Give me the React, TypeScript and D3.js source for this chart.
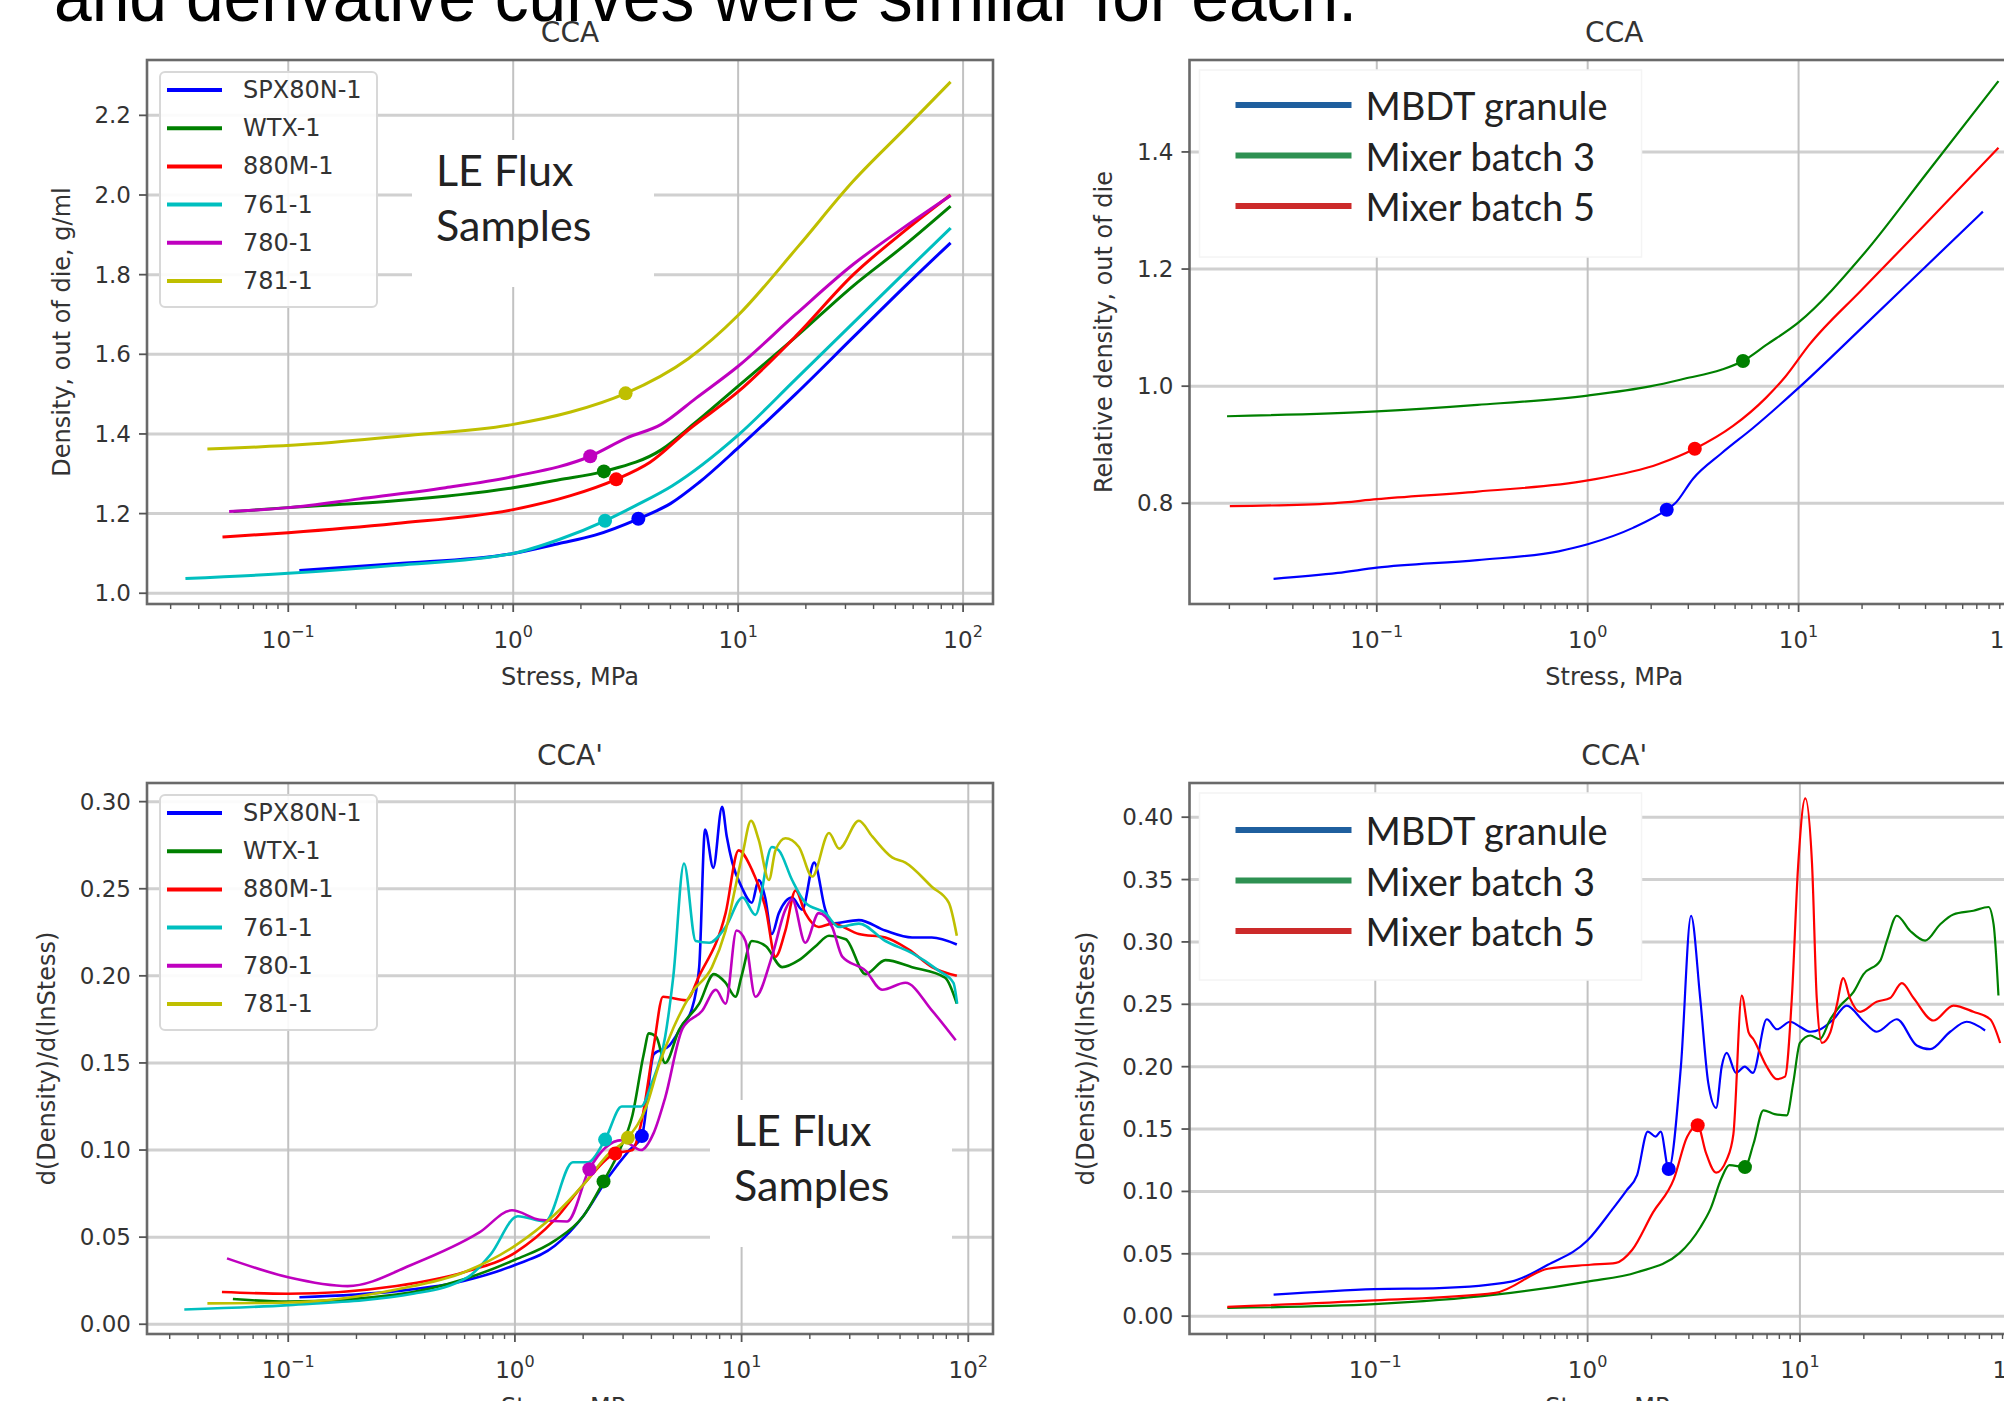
import React from "react";
import * as d3 from "d3";

type Pt = [number, number];

// ---------- shared
const decadeExps = [-1, 0, 1, 2];
const minusSign = "\u2212";

// ---------- left column: LE flux samples
const fluxNames = ["SPX80N-1", "WTX-1", "880M-1", "761-1", "780-1", "781-1"];
const fluxColors = ["#0000ff", "#008000", "#ff0000", "#00bfbf", "#bf00bf", "#bfbf00"];

// density (g/ml) vs stress (MPa)
const densSpx: Pt[] = [[0.112, 1.057], [0.3, 1.074], [1.0, 1.1], [1.6, 1.125], [2.31, 1.146], [3.6, 1.187], [5.0, 1.225], [6.7, 1.278], [10, 1.365], [18, 1.5], [32.5, 1.643], [55, 1.77], [88, 1.88]];
const densWtx: Pt[] = [[0.057, 1.205], [0.1, 1.215], [0.3, 1.232], [1.0, 1.265], [1.6, 1.285], [2.53, 1.306], [4.55, 1.36], [6.5, 1.43], [10, 1.52], [18, 1.643], [32.5, 1.772], [55, 1.874], [88, 1.972]];
const densRed: Pt[] = [[0.051, 1.141], [0.1, 1.152], [0.3, 1.175], [1.0, 1.21], [1.8, 1.245], [2.87, 1.286], [4.06, 1.329], [6.0, 1.41], [10, 1.506], [18, 1.645], [32.5, 1.8], [55, 1.91], [88, 2.0]];
const densCyan: Pt[] = [[0.0349, 1.037], [0.1, 1.05], [0.3, 1.07], [1.0, 1.1], [1.6, 1.135], [2.56, 1.182], [3.5, 1.22], [5.1, 1.27], [10, 1.397], [18, 1.537], [32.5, 1.679], [55, 1.805], [88, 1.917]];
const densMag: Pt[] = [[0.0546, 1.205], [0.1, 1.215], [0.207, 1.237], [0.5, 1.265], [1.0, 1.293], [2.2, 1.344], [3.2, 1.39], [4.55, 1.424], [6.5, 1.49], [10, 1.57], [18, 1.7], [32.5, 1.826], [55, 1.92], [88, 1.999]];
const densYel: Pt[] = [[0.0437, 1.362], [0.12, 1.374], [0.32, 1.395], [1.0, 1.424], [1.8, 1.455], [3.16, 1.502], [6.0, 1.589], [10, 1.698], [18.5, 1.871], [32.5, 2.035], [55, 2.166], [88, 2.284]];
const densMarkers: Pt[] = [[3.6, 1.187], [2.53, 1.306], [2.87, 1.286], [2.56, 1.182], [2.2, 1.344], [3.16, 1.502]];
const densTicks = [1.0, 1.2, 1.4, 1.6, 1.8, 2.0, 2.2];

// d(density)/d(ln stress) vs stress
const derSpx: Pt[] = [[0.112, 0.0155], [0.3, 0.019], [0.6, 0.025], [1.0, 0.034], [1.5, 0.045], [2.0, 0.062], [2.6, 0.085], [3.2, 0.1], [3.63, 0.108], [4.1, 0.155], [4.8, 0.16], [5.5, 0.172], [6.0, 0.18], [6.5, 0.205], [6.9, 0.284], [7.5, 0.262], [8.2, 0.297], [8.6, 0.28], [9.1, 0.265], [10, 0.251], [11.1, 0.242], [11.9, 0.255], [12.7, 0.245], [13.6, 0.224], [14.6, 0.236], [16.7, 0.245], [18.5, 0.238], [20.9, 0.265], [23.4, 0.238], [25, 0.23], [32.9, 0.232], [43, 0.226], [56.5, 0.222], [69, 0.222], [89, 0.218]];
const derWtx: Pt[] = [[0.057, 0.0145], [0.1, 0.013], [0.3, 0.017], [0.6, 0.026], [1.0, 0.037], [1.5, 0.048], [2.0, 0.062], [2.46, 0.082], [2.9, 0.1], [3.3, 0.12], [3.7, 0.155], [3.9, 0.167], [4.2, 0.165], [4.6, 0.15], [5.3, 0.169], [6.5, 0.184], [7.55, 0.201], [8.5, 0.196], [9.4, 0.188], [10, 0.2], [11.1, 0.22], [12.8, 0.217], [15.1, 0.205], [17.9, 0.209], [21.2, 0.217], [24.3, 0.223], [28.8, 0.221], [35.2, 0.201], [43.1, 0.209], [56.5, 0.205], [79, 0.199], [89, 0.184]];
const derRed: Pt[] = [[0.051, 0.0185], [0.1, 0.0175], [0.3, 0.022], [0.6, 0.03], [1.0, 0.041], [1.5, 0.06], [2.0, 0.08], [2.77, 0.098], [3.3, 0.1], [3.6, 0.115], [4.1, 0.16], [4.5, 0.188], [5.7, 0.186], [6.5, 0.2], [8.5, 0.236], [9.7, 0.272], [11.1, 0.261], [12.8, 0.238], [14.1, 0.211], [15.6, 0.226], [17.3, 0.249], [19.1, 0.236], [21.9, 0.228], [25.1, 0.23], [32.9, 0.224], [43.1, 0.222], [54.7, 0.215], [69.2, 0.205], [89, 0.2]];
const derCyan: Pt[] = [[0.0348, 0.0085], [0.1, 0.011], [0.36, 0.0176], [0.62, 0.027], [0.78, 0.04], [1.03, 0.062], [1.36, 0.059], [1.8, 0.093], [2.1, 0.093], [2.5, 0.106], [2.96, 0.125], [3.6, 0.125], [4.0, 0.138], [4.6, 0.165], [5.0, 0.2], [5.57, 0.2645], [6.27, 0.22], [7.2, 0.219], [8.5, 0.228], [10.1, 0.245], [11.5, 0.235], [13.6, 0.274], [14.6, 0.272], [16.7, 0.255], [19.1, 0.242], [23.4, 0.236], [26.9, 0.228], [32.9, 0.23], [43.1, 0.22], [56.5, 0.213], [74, 0.203], [86, 0.196], [89.3, 0.184]];
const derMag: Pt[] = [[0.0537, 0.0378], [0.1, 0.027], [0.183, 0.0219], [0.357, 0.0346], [0.697, 0.0527], [0.97, 0.0654], [1.285, 0.06], [1.7, 0.059], [2.13, 0.089], [2.96, 0.1057], [3.6, 0.1], [4.1, 0.11], [4.6, 0.13], [5.5, 0.17], [6.7, 0.18], [7.7, 0.192], [8.5, 0.184], [9.5, 0.226], [10.4, 0.22], [11.5, 0.188], [13.6, 0.211], [15.6, 0.238], [16.7, 0.244], [19.1, 0.219], [21.9, 0.236], [25.1, 0.228], [27.8, 0.211], [35.2, 0.203], [41.7, 0.192], [52.8, 0.196], [69.2, 0.18], [88, 0.163]];
const derYel: Pt[] = [[0.044, 0.012], [0.1, 0.0125], [0.3, 0.02], [0.6, 0.03], [1.0, 0.045], [1.5, 0.063], [2.0, 0.08], [2.6, 0.098], [3.15, 0.107], [3.8, 0.125], [4.3, 0.148], [5.0, 0.17], [6.0, 0.19], [7.4, 0.205], [8.5, 0.226], [10.1, 0.27], [11, 0.289], [11.9, 0.278], [13.2, 0.255], [14.1, 0.272], [15.6, 0.279], [17.9, 0.274], [20.5, 0.257], [24.3, 0.282], [26.9, 0.273], [32.9, 0.289], [37.7, 0.28], [46.1, 0.268], [52.8, 0.265], [69.2, 0.251], [82, 0.242], [89, 0.223]];
const derMarkers: Pt[] = [[3.63, 0.108], [2.46, 0.082], [2.77, 0.098], [2.5, 0.106], [2.13, 0.089], [3.15, 0.107]];
const derTicks = [0, 0.05, 0.1, 0.15, 0.2, 0.25, 0.3];

// ---------- right column: MBDT / mixer batches
const mixNames = ["MBDT granule", "Mixer batch 3", "Mixer batch 5"];
const mixColors = ["#0000ff", "#008000", "#ff0000"];
const mixLegendColors = ["#1f5f9e", "#2e9152", "#cc2a2a"];

const relBlue: Pt[] = [[0.0324, 0.671], [0.0653, 0.681], [0.1, 0.69], [0.3, 0.703], [0.728, 0.718], [1.0, 0.73], [1.64, 0.758], [2.37, 0.789], [2.6, 0.8], [3.16, 0.842], [4.3, 0.885], [6.1, 0.929], [10, 0.997], [20, 1.1], [40, 1.204], [74.8, 1.298]];
const relGreen: Pt[] = [[0.0195, 0.9486], [0.1, 0.957], [0.3, 0.968], [1.0, 0.984], [2.0, 1.0], [2.9, 1.013], [4.3, 1.028], [5.45, 1.043], [7.0, 1.07], [10, 1.109], [20.5, 1.227], [40, 1.361], [88.7, 1.521]];
const relRed: Pt[] = [[0.0201, 0.795], [0.0617, 0.8], [0.1, 0.807], [0.3, 0.82], [1.0, 0.839], [2.17, 0.867], [3.22, 0.893], [4.89, 0.932], [7.0, 0.98], [8.65, 1.016], [11.2, 1.07], [20, 1.165], [40, 1.277], [88.7, 1.407]];
const relMarkers: Pt[] = [[2.37, 0.789], [5.45, 1.043], [3.22, 0.893]];
const relTicks = [0.8, 1.0, 1.2, 1.4];

const mdBlue: Pt[] = [[0.0332, 0.0172], [0.099, 0.0217], [0.2, 0.0225], [0.436, 0.0277], [0.65, 0.0412], [1.0, 0.0608], [1.3, 0.085], [1.53, 0.101], [1.71, 0.113], [1.92, 0.148], [2.09, 0.144], [2.21, 0.148], [2.41, 0.118], [2.75, 0.2], [3.07, 0.321], [3.39, 0.255], [3.7, 0.187], [4.03, 0.167], [4.28, 0.2], [4.52, 0.211], [5.0, 0.195], [5.5, 0.2], [6.0, 0.195], [6.98, 0.238], [7.8, 0.23], [9.0, 0.236], [10, 0.232], [11.2, 0.228], [12.5, 0.23], [14.4, 0.238], [16.6, 0.249], [20, 0.236], [23, 0.228], [28.6, 0.238], [35.5, 0.217], [41, 0.214], [51, 0.228], [61, 0.236], [74.5, 0.229]];
const mdGreen: Pt[] = [[0.0201, 0.0066], [0.099, 0.0096], [0.368, 0.0172], [1.0, 0.0277], [1.71, 0.0352], [2.7, 0.0503], [3.4, 0.0713], [3.8, 0.0864], [4.27, 0.1105], [4.65, 0.121], [5.51, 0.1195], [6.04, 0.138], [6.73, 0.165], [7.6, 0.162], [8.67, 0.161], [9.3, 0.187], [10, 0.219], [11.2, 0.225], [12.4, 0.222], [13.9, 0.238], [15.5, 0.249], [17.9, 0.26], [19.9, 0.274], [23.9, 0.285], [25.7, 0.301], [28.6, 0.321], [33, 0.309], [38.9, 0.301], [45.7, 0.314], [52.8, 0.322], [65.6, 0.325], [77.3, 0.328], [81.7, 0.314], [86.1, 0.257]];
const mdRed: Pt[] = [[0.0201, 0.0075], [0.099, 0.0126], [0.368, 0.0187], [0.65, 0.038], [1.03, 0.0412], [1.36, 0.0427], [1.62, 0.053], [2.03, 0.083], [2.55, 0.11], [2.94, 0.1436], [3.3, 0.153], [3.6, 0.1315], [4.03, 0.115], [4.52, 0.1255], [4.86, 0.146], [5.32, 0.257], [5.73, 0.2275], [6.04, 0.222], [6.98, 0.2], [7.78, 0.19], [8.51, 0.192], [9.16, 0.255], [9.8, 0.36], [10.6, 0.415], [11.4, 0.363], [12.0, 0.255], [12.7, 0.219], [13.9, 0.2275], [14.9, 0.249], [16.0, 0.271], [17.2, 0.255], [19.2, 0.244], [23.0, 0.252], [26.6, 0.255], [30.2, 0.267], [34.3, 0.255], [42.6, 0.237], [52.8, 0.249], [65.6, 0.244], [78.7, 0.238], [87.7, 0.219]];
const mdMarkers: Pt[] = [[2.41, 0.118], [5.51, 0.1195], [3.3, 0.153]];
const mdTicks = [0, 0.05, 0.1, 0.15, 0.2, 0.25, 0.3, 0.35, 0.4];

const tickFont = "'DejaVu Sans', sans-serif";
const noteFont = "Lato, 'Open Sans', sans-serif";

type Series = { pts: Pt[]; color: string; marker: Pt };
type Box = { l: number; r: number; t: number; b: number };

function Panel(props: {
  id: string;
  box: Box;
  xLog: [number, number];
  yDom: [number, number];
  yTicks: number[];
  fmt: (v: number) => string;
  series: Series[];
  lw: number;
  title: string;
  ylabel: string;
  ylabelX: number;
  children?: React.ReactNode;
}) {
  const { l, r, t, b } = props.box;
  const x = d3.scaleLog().domain([10 ** props.xLog[0], 10 ** props.xLog[1]]).range([l, r]);
  const y = d3.scaleLinear().domain(props.yDom).range([b, t]);
  const line = d3
    .line<Pt>()
    .x((d) => x(d[0]))
    .y((d) => y(d[1]))
    .curve(d3.curveMonotoneX);
  const [d0, d1] = x.domain();
  const majors = decadeExps.map((e) => 10 ** e).filter((v) => v >= d0 && v <= d1);
  const minors: number[] = [];
  for (let e = -2; e <= 2; e++)
    for (let k = 2; k <= 9; k++) {
      const v = k * 10 ** e;
      if (v >= d0 && v <= d1) minors.push(v);
    }
  const cx = (l + r) / 2;
  const cy = (t + b) / 2;
  return (
    <g>
      <defs>
        <clipPath id={props.id}>
          <rect x={l} y={t} width={r - l} height={b - t} />
        </clipPath>
      </defs>
      {/* grid */}
      {props.yTicks.map((v) => (
        <line key={"gy" + v} x1={l} x2={r} y1={y(v)} y2={y(v)} stroke="#d0d0d0" strokeWidth={3} />
      ))}
      {majors.map((v) => (
        <line key={"gx" + v} x1={x(v)} x2={x(v)} y1={t} y2={b} stroke="#c2c2c2" strokeWidth={2} />
      ))}
      {props.children}
      {/* data */}
      <g clipPath={`url(#${props.id})`}>
        {props.series.map((s, i) => (
          <path key={"s" + i} d={line(s.pts) || ""} fill="none" stroke={s.color} strokeWidth={props.lw} strokeLinejoin="round" />
        ))}
        {props.series.map((s, i) => (
          <circle key={"m" + i} cx={x(s.marker[0])} cy={y(s.marker[1])} r={7} fill={s.color} />
        ))}
      </g>
      {/* spines */}
      <rect x={l} y={t} width={r - l} height={b - t} fill="none" stroke="#6a6a6a" strokeWidth={2.6} />
      {/* y ticks */}
      {props.yTicks.map((v) => (
        <g key={"ty" + v}>
          <line x1={l - 8} x2={l} y1={y(v)} y2={y(v)} stroke="#555" strokeWidth={1.8} />
          <text x={l - 16} y={y(v)} textAnchor="end" dominantBaseline="central" fontFamily={tickFont} fontSize={23} fill="#333">
            {props.fmt(v)}
          </text>
        </g>
      ))}
      {/* x ticks */}
      {minors.map((v) => (
        <line key={"mn" + v} x1={x(v)} x2={x(v)} y1={b} y2={b + 5} stroke="#555" strokeWidth={1.4} />
      ))}
      {majors.map((v) => {
        const e = Math.round(Math.log10(v));
        return (
          <g key={"tx" + v}>
            <line x1={x(v)} x2={x(v)} y1={b} y2={b + 8} stroke="#555" strokeWidth={1.8} />
            <text x={x(v)} y={b + 44} textAnchor="middle" fontFamily={tickFont} fontSize={23} fill="#333">
              10
              <tspan dy={-11} fontSize={16}>
                {e < 0 ? minusSign + Math.abs(e) : String(e)}
              </tspan>
            </text>
          </g>
        );
      })}
      <text x={cx} y={t - 28} textAnchor="middle" dominantBaseline="central" fontFamily={tickFont} fontSize={28} fill="#333">
        {props.title}
      </text>
      <text x={cx} y={b + 73} textAnchor="middle" dominantBaseline="central" fontFamily={tickFont} fontSize={24} fill="#333">
        Stress, MPa
      </text>
      <text
        transform={`translate(${props.ylabelX},${cy}) rotate(-90)`}
        textAnchor="middle"
        dominantBaseline="central"
        fontFamily={tickFont}
        fontSize={24}
        fill="#333"
      >
        {props.ylabel}
      </text>
    </g>
  );
}

function FluxLegend({ box }: { box: Box }) {
  const { l, t } = box;
  return (
    <g>
      <rect x={l + 13} y={t + 12} width={217} height={235} rx={5} fill="#fff" fillOpacity={0.9} stroke="#d8d8d8" strokeWidth={2} />
      {fluxNames.map((n, i) => {
        const yy = t + 30 + i * 38.2;
        return (
          <g key={n}>
            <line x1={l + 20} x2={l + 75} y1={yy} y2={yy} stroke={fluxColors[i]} strokeWidth={4} />
            <text x={l + 96} y={yy} dominantBaseline="central" fontFamily={tickFont} fontSize={24} fill="#333">
              {n}
            </text>
          </g>
        );
      })}
    </g>
  );
}

function MixLegend({ box, dy }: { box: Box; dy: number }) {
  const { l, t } = box;
  return (
    <g>
      <rect x={l + 10} y={t + 10} width={442} height={187} fill="#fff" stroke="#f4f4f4" strokeWidth={1.5} />
      {mixNames.map((n, i) => {
        const yy = t + dy + i * 50.5;
        return (
          <g key={n}>
            <line x1={l + 46} x2={l + 162} y1={yy} y2={yy} stroke={mixLegendColors[i]} strokeWidth={6} />
            <text x={l + 176} y={yy} dominantBaseline="central" fontFamily={noteFont} fontSize={38} fill="#222">
              {n}
            </text>
          </g>
        );
      })}
    </g>
  );
}

function FluxNote({ box, dx, dy }: { box: Box; dx: number; dy: number }) {
  const x0 = box.l + dx;
  const y0 = box.t + dy;
  return (
    <g>
      <rect x={x0} y={y0} width={242} height={147} fill="#fff" />
      <text x={x0 + 24} y={y0 + 46} fontFamily={noteFont} fontSize={43} fill="#222">
        LE Flux
      </text>
      <text x={x0 + 24} y={y0 + 101} fontFamily={noteFont} fontSize={43} fill="#222">
        Samples
      </text>
    </g>
  );
}

export default function App() {
  const tl: Box = { l: 147, r: 993, t: 60, b: 604 };
  const bl: Box = { l: 147, r: 993, t: 783, b: 1334 };
  const tr: Box = { l: 1189.5, r: 2039, t: 60, b: 604 };
  const br: Box = { l: 1189.5, r: 2039, t: 783, b: 1334 };

  const dens = [densSpx, densWtx, densRed, densCyan, densMag, densYel];
  const der = [derSpx, derWtx, derRed, derCyan, derMag, derYel];
  const rel = [relBlue, relGreen, relRed];
  const md = [mdBlue, mdGreen, mdRed];

  const f1 = (v: number) => v.toFixed(1);
  const f2 = (v: number) => v.toFixed(2);

  return (
    <svg
      width={2004}
      height={1401}
      viewBox="0 0 2004 1401"
      style={{ position: "absolute", left: 0, top: 0, background: "#fff" }}
    >
      <rect x={0} y={0} width={2004} height={1401} fill="#fff" />
      <Panel
        id="c-tl"
        box={tl}
        xLog={[-1.628, 2.133]}
        yDom={[0.973, 2.339]}
        yTicks={densTicks}
        fmt={f1}
        series={dens.map((pts, i) => ({ pts, color: fluxColors[i], marker: densMarkers[i] }))}
        lw={3}
        title="CCA"
        ylabel="Density, out of die, g/ml"
        ylabelX={62}
      >
        <FluxNote box={tl} dx={265} dy={80} />
      </Panel>
      <FluxLegend box={tl} />

      <Panel
        id="c-bl"
        box={bl}
        xLog={[-1.623, 2.109]}
        yDom={[-0.0056, 0.3107]}
        yTicks={derTicks}
        fmt={f2}
        series={der.map((pts, i) => ({ pts, color: fluxColors[i], marker: derMarkers[i] }))}
        lw={2.6}
        title="CCA'"
        ylabel="d(Density)/d(lnStess)"
        ylabelX={47}
      >
        <FluxNote box={bl} dx={563} dy={317} />
      </Panel>
      <FluxLegend box={bl} />

      <Panel
        id="c-tr"
        box={tr}
        xLog={[-1.888, 2.14]}
        yDom={[0.628, 1.557]}
        yTicks={relTicks}
        fmt={f1}
        series={rel.map((pts, i) => ({ pts, color: mixColors[i], marker: relMarkers[i] }))}
        lw={2.2}
        title="CCA"
        ylabel="Relative density, out of die"
        ylabelX={1104}
      />
      <MixLegend box={tr} dy={45} />

      <Panel
        id="c-br"
        box={br}
        xLog={[-1.875, 2.126]}
        yDom={[-0.0143, 0.4274]}
        yTicks={mdTicks}
        fmt={f2}
        series={md.map((pts, i) => ({ pts, color: mixColors[i], marker: mdMarkers[i] }))}
        lw={2.2}
        title="CCA'"
        ylabel="d(Density)/d(lnStess)"
        ylabelX={1086}
      />
      <MixLegend box={br} dy={47} />

      <text
        x={54}
        y={21}
        fontFamily="'Liberation Sans', Arial, sans-serif"
        fontSize={72}
        fill="#000"
        textLength={1303}
        lengthAdjust="spacingAndGlyphs"
      >
        and derivative curves were similar for each.
      </text>
    </svg>
  );
}
